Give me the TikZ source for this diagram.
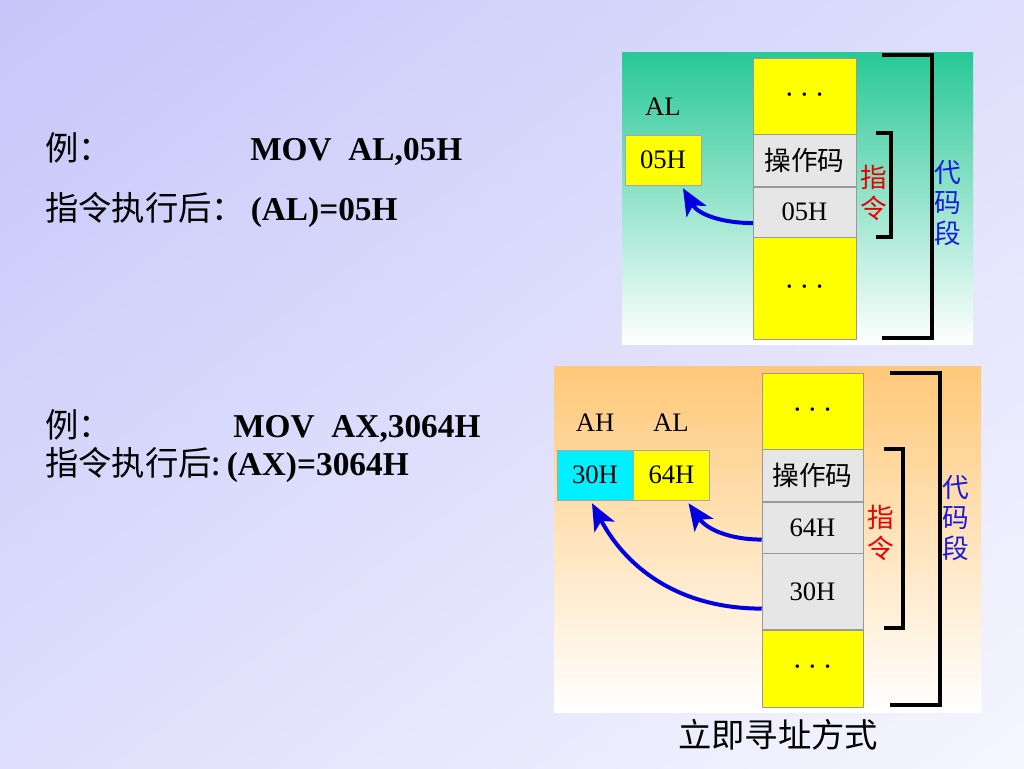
\documentclass[tikz,border=0pt]{standalone}
\usepackage{fontspec}
\setmainfont{Liberation Serif}
\newfontfamily\cjk{Noto Sans CJK SC}
\usetikzlibrary{positioning, arrows.meta, calc, shadings}

\definecolor{cellYellow}{RGB}{255,255,0}
\definecolor{cellGray}{RGB}{230,230,230}
\definecolor{regCyan}{RGB}{0,240,255}
\definecolor{arrowBlue}{RGB}{0,0,225}
\definecolor{codeBlue}{RGB}{25,25,225}
\definecolor{instrRed}{RGB}{235,0,0}
\definecolor{bgUL}{RGB}{198,198,250}
\definecolor{bgUR}{RGB}{222,222,252}
\definecolor{bgLL}{RGB}{222,222,252}
\definecolor{bgLR}{RGB}{246,246,255}
\definecolor{tealTop}{RGB}{40,200,150}
\definecolor{tealMid}{RGB}{155,226,198}
\definecolor{orangeTop}{RGB}{255,200,120}
\definecolor{orangeMid}{RGB}{255,228,186}

\newcommand{\memdots}{{\fontsize{11}{11}\selectfont\textbullet\hspace{7.5pt}\textbullet\hspace{7.5pt}\textbullet}}

\tikzset{
	cell/.style={rectangle, draw=black!40, text centered, inner sep=0pt, minimum width=77pt,
		font=\fontsize{20}{23}\selectfont},
	ycell/.style={cell, fill=cellYellow},
	gcell/.style={cell, fill=cellGray},
	reg/.style={rectangle, draw=black!35, text centered, inner sep=0pt, minimum width=57pt,
		minimum height=37.5pt, font=\fontsize{20}{23}\selectfont},
	reglabel/.style={font=\fontsize{20}{23}\selectfont},
	bigtext/.style={anchor=west, inner sep=0pt, font=\fontsize{25}{30}\selectfont},
	bracket/.style={draw, line width=3pt, line join=miter},
	flow/.style={arrowBlue, line width=3pt, -{Stealth[length=20pt,width=17pt,inset=5pt]}},
	side/.style={align=center, inner sep=0pt, font=\fontsize{20}{23}\cjk}
}

\begin{document}
\begin{tikzpicture}[x=0.75pt, y=0.75pt]

	% Background
	\useasboundingbox (0,0) rectangle (1024,-768);
	\shade[upper left=bgUL, upper right=bgUR, lower left=bgLL, lower right=bgLR]
	(0,0) rectangle (1024,-768);

	% Left texts
	\node (exA) at (45,-160) [bigtext, anchor=base west] {\cjk 例：};
	\node (movA) at (250,-160) [bigtext, anchor=base west] {\textbf{MOV~~AL,05H}};
	\node (resA) at (45,-220) [bigtext, anchor=base west] {{\cjk 指令执行后：}\,\textbf{(AL)=05H}};
	\node (exB) at (45,-437) [bigtext, anchor=base west] {\cjk 例：};
	\node (movB) at (233,-437) [bigtext, anchor=base west] {\textbf{MOV~~AX,3064H}};
	\node (resB) at (45,-475) [bigtext, anchor=base west] {{\cjk 指令执行后:}\,\textbf{(AX)=3064H}};

	% Top panel
	\shade[top color=tealTop, middle color=tealMid, bottom color=white] (622,-52) rectangle (973,-344);

	\node (topDots) at (804.5,-96) [ycell, minimum height=57pt] {\memdots};
	\node (topOp) [gcell, minimum height=39pt, below=0pt of topDots] {\cjk 操作码};
	\node (topData) [gcell, minimum height=37.5pt, below=0pt of topOp] {05H};
	\node (topEnd) [ycell, minimum height=76.5pt, below=0pt of topData] {\memdots};

	\node (alName) at (663,-107) [reglabel] {AL};
	\node (alReg) at (663,-160) [reg, fill=cellYellow] {05H};

	\draw [bracket] (876,-133) -- (891,-133) -- (891,-237) -- (876,-237);
	\draw [bracket] (882,-55) -- (932,-55) -- (932,-338) -- (882,-338);
	\node (topInstr) at (874,-193) [side, instrRed] {指\\令};
	\node (topSeg) at (948,-203) [side, codeBlue] {代\\码\\段};

	\draw [flow] ($(topData.west)+(0,-11)$) to [out=180,in=-60] ($(alReg.south)+(20,-3)$);

	% Bottom panel
	\shade[top color=orangeTop, middle color=orangeMid, bottom color=white] (554,-366) rectangle (981,-712);

	\node (botDots) at (812.5,-411) [ycell, minimum width=75.75pt, minimum height=57pt] {\memdots};
	\node (botOp) [gcell, minimum width=75.75pt, minimum height=39pt, below=0pt of botDots] {\cjk 操作码};
	\node (botLow) [gcell, minimum width=75.75pt, minimum height=38.25pt, below=0pt of botOp] {64H};
	\node (botHigh) [gcell, minimum width=75.75pt, minimum height=57pt, below=0pt of botLow] {30H};
	\node (botEnd) [ycell, minimum width=75.75pt, minimum height=57.75pt, below=0pt of botHigh] {\memdots};

	\node (ahName) at (595,-423) [reglabel] {AH};
	\node (alNameB) at (671,-423) [reglabel] {AL};
	\node (ahReg) at (595,-475) [reg, fill=regCyan] {30H};
	\node (alRegB) [reg, fill=cellYellow, right=0pt of ahReg] {64H};

	\draw [bracket] (884,-449) -- (903,-449) -- (903,-628) -- (884,-628);
	\draw [bracket] (890,-373) -- (940,-373) -- (940,-705) -- (890,-705);
	\node (botInstr) at (881,-533) [side, instrRed] {指\\令};
	\node (botSeg) at (956,-518) [side, codeBlue] {代\\码\\段};

	\draw [flow] ($(botLow.west)+(0,-12)$) to [out=180,in=-55] ($(alRegB.south)+(17,-3)$);
	\draw [flow] ($(botHigh.west)+(0,-17)$) to [out=180,in=-62] ($(ahReg.south)+(-3,-3)$);

	% Caption
	\node (caption) at (778,-735) [font=\fontsize{25}{30}\cjk] {立即寻址方式};

\end{tikzpicture}
\end{document}
